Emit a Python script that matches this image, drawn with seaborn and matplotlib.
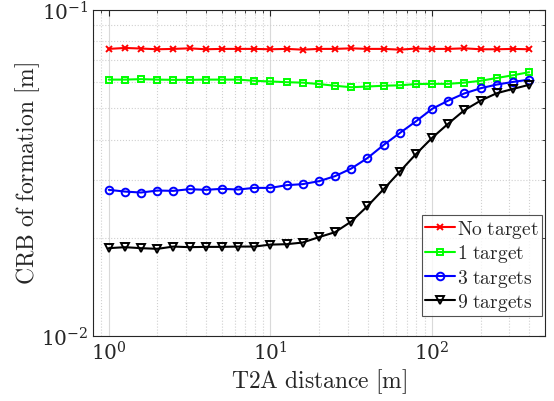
import numpy as np
import pandas as pd
import seaborn as sns
import matplotlib.pyplot as plt
from matplotlib.ticker import LogLocator, NullFormatter

# T2A distance [m]
distancia = [1.0, 1.26, 1.58, 2.0, 2.51, 3.16, 3.98, 5.01, 6.31, 7.94,
             10.0, 12.6, 15.8, 20.0, 25.1, 31.6, 39.8, 50.1, 63.1, 79.4,
             100.0, 126.0, 158.0, 200.0, 251.0, 316.0, 398.0]

crb_sem_alvo = [0.0759, 0.0764, 0.0761, 0.0757, 0.0759, 0.0762, 0.0757, 0.0759, 0.0759,
                0.0759, 0.0757, 0.0759, 0.0755, 0.0759, 0.0759, 0.0762, 0.0759, 0.0759,
                0.0755, 0.0761, 0.0759, 0.0759, 0.0762, 0.0757, 0.0757, 0.0759, 0.0757]
crb_1_alvo = [0.0611, 0.0611, 0.0613, 0.0611, 0.0610, 0.0610, 0.0611, 0.0611, 0.0611,
              0.0606, 0.0603, 0.0600, 0.0598, 0.0592, 0.0585, 0.0579, 0.0582, 0.0585,
              0.0587, 0.0592, 0.0593, 0.0593, 0.0598, 0.0606, 0.0618, 0.0630, 0.0644]
crb_3_alvos = [0.02805, 0.02771, 0.02752, 0.02791, 0.02785, 0.02818, 0.02805, 0.02825, 0.02811,
               0.02844, 0.02844, 0.02899, 0.0292, 0.02982, 0.0309, 0.0326, 0.0351, 0.0385,
               0.0419, 0.0455, 0.0497, 0.0527, 0.0554, 0.0575, 0.0590, 0.0601, 0.0611]
crb_9_alvos = [0.01858, 0.01871, 0.01858, 0.01849, 0.01879, 0.01871, 0.01875, 0.01875, 0.01879,
               0.01879, 0.01905, 0.01911, 0.01933, 0.02009, 0.0208, 0.02242, 0.02499, 0.02818,
               0.0319, 0.0361, 0.0405, 0.0448, 0.0492, 0.0527, 0.0555, 0.0572, 0.0589]

rotulos = ['No target', '1 target', '3 targets', '9 targets']
series = [crb_sem_alvo, crb_1_alvo, crb_3_alvos, crb_9_alvos]
cores = ['#ff0000', '#00ff00', '#0000ff', '#000000']
marcadores = ['x', 's', 'o', 'v']
tamanhos = [4, 5, 5.5, 6]

sns.set_style("white")
plt.rcParams['mathtext.fontset'] = 'cm'
plt.rcParams['font.family'] = ['DejaVu Serif']

fig = plt.figure(figsize=(5.54, 4.02), dpi=100)
ax = fig.add_axes([0.168, 0.162, 0.816, 0.811])

for rot, vals, cor, mk, tam in zip(rotulos, series, cores, marcadores, tamanhos):
    df = pd.DataFrame({'dist': distancia, 'crb': vals})
    sns.lineplot(data=df, x='dist', y='crb', ax=ax, color=cor, marker=mk,
                 markersize=tam, markerfacecolor='none',
                 markeredgecolor=cor, markeredgewidth=1.4, linewidth=1.5,
                 label=r'$\mathrm{' + rot.replace(' ', r'\ ') + '}$')

ax.set_xscale('log')
ax.set_yscale('log')
ax.set_xlim(0.8, 500)
ax.set_ylim(1e-2, 1e-1)
ax.yaxis.set_major_locator(LogLocator(base=10, numticks=5))
ax.yaxis.set_minor_locator(LogLocator(base=10, subs=np.arange(2, 10), numticks=10))
ax.yaxis.set_minor_formatter(NullFormatter())
ax.xaxis.set_minor_formatter(NullFormatter())

ax.grid(which='major', color='#d9d9d9', linestyle='-', linewidth=0.8)
ax.grid(which='minor', color='#d0d0d0', linestyle=':', linewidth=0.8)
ax.tick_params(which='both', direction='in', top=True, right=True, colors='#262626')
ax.tick_params(which='major', length=4, labelsize=14.5)
ax.tick_params(which='minor', length=2)
for s in ax.spines.values():
    s.set_color('#262626')
    s.set_linewidth(0.8)

ax.set_xlabel(r'$\mathrm{T2A\ distance\ [m]}$', fontsize=17, color='#262626', labelpad=2)
ax.set_ylabel(r'$\mathrm{CRB\ of\ formation\ [m]}$', fontsize=17, color='#262626', labelpad=-1)

leg = ax.legend(loc='lower right', bbox_to_anchor=(0.992, 0.061), fontsize=14,
                frameon=True, fancybox=False, edgecolor='#262626', borderpad=0.15,
                labelspacing=0.12, handlelength=1.55, handletextpad=0.1,
                borderaxespad=0.0)
leg.get_frame().set_linewidth(0.8)

fig.savefig('out.png', dpi=100)
